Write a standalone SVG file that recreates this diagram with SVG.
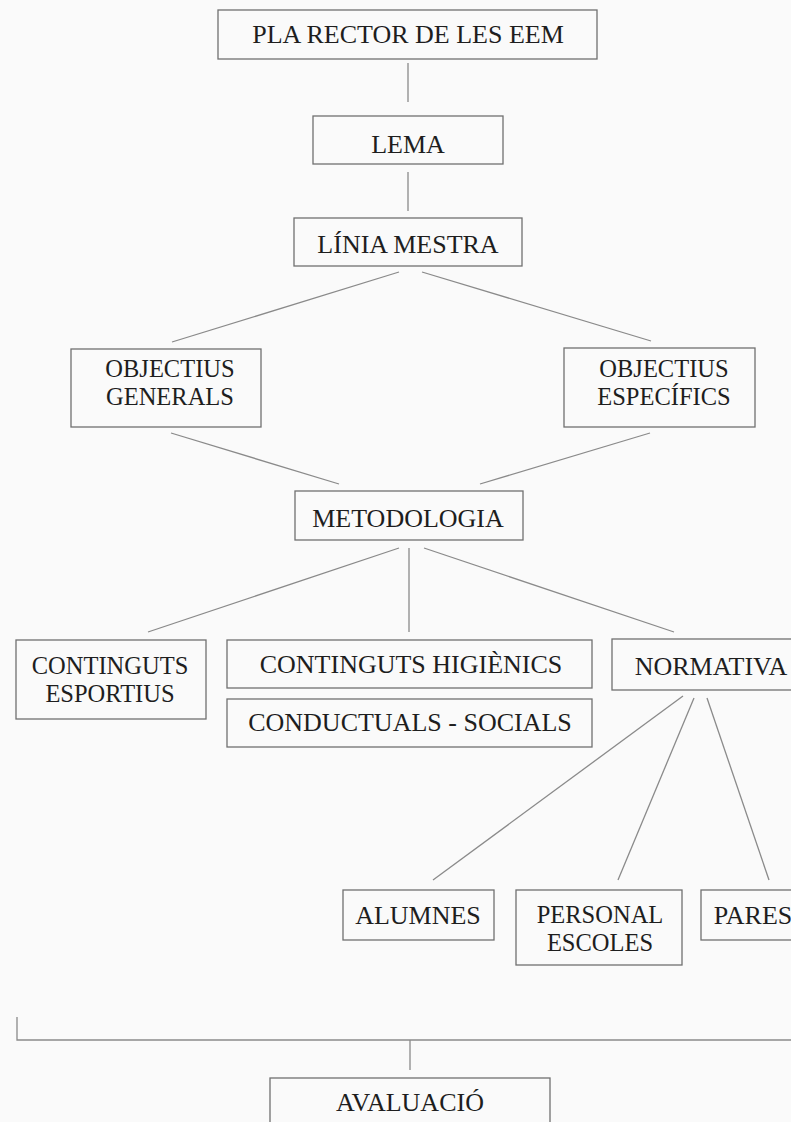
<svg xmlns="http://www.w3.org/2000/svg" width="791" height="1122" viewBox="0 0 791 1122">
<style>
.box{fill:none;stroke:#707070;stroke-width:1.3}
.ln{fill:none;stroke:#8a8a8a;stroke-width:1.3}
.t{font-family:"Liberation Serif","Times New Roman",serif;font-size:26px;fill:#1e1e1e;text-anchor:middle}
.t2{font-size:24.5px}
</style>
<rect width="791" height="1122" fill="#fafafa"/>
<g id="connectors">
<line class="ln" x1="408" y1="63" x2="408" y2="102"/>
<line class="ln" x1="408" y1="172" x2="408" y2="211"/>
<line class="ln" x1="399" y1="272" x2="172" y2="342"/>
<line class="ln" x1="422" y1="272" x2="651" y2="341"/>
<line class="ln" x1="171" y1="433" x2="339" y2="484"/>
<line class="ln" x1="650" y1="433" x2="480" y2="484"/>
<line class="ln" x1="399" y1="548" x2="148" y2="632"/>
<line class="ln" x1="409" y1="548" x2="409" y2="632"/>
<line class="ln" x1="424" y1="548" x2="674" y2="632"/>
<line class="ln" x1="683" y1="696" x2="433" y2="880"/>
<line class="ln" x1="694" y1="698" x2="618" y2="880"/>
<line class="ln" x1="707" y1="698" x2="769" y2="880"/>
<polyline class="ln" points="17,1017 17,1040 795,1040"/>
<line class="ln" x1="410" y1="1040" x2="410" y2="1070"/>
</g>
<g id="pla-rector">
<rect class="box" x="218" y="10" width="379" height="49"/>
<text class="t" x="408" y="43">PLA RECTOR DE LES EEM</text>
</g>
<g id="lema">
<rect class="box" x="313" y="116" width="190" height="48"/>
<text class="t" x="408" y="153">LEMA</text>
</g>
<g id="linia-mestra">
<rect class="box" x="294" y="218" width="228" height="48"/>
<text class="t" x="408" y="253">LÍNIA MESTRA</text>
</g>
<g id="objectius-generals">
<rect class="box" x="71" y="349" width="190" height="78"/>
<text class="t t2" x="170" y="377">OBJECTIUS</text>
<text class="t t2" x="170" y="405">GENERALS</text>
</g>
<g id="objectius-especifics">
<rect class="box" x="564" y="348" width="191" height="79"/>
<text class="t t2" x="664" y="377">OBJECTIUS</text>
<text class="t t2" x="664" y="405">ESPECÍFICS</text>
</g>
<g id="metodologia">
<rect class="box" x="295" y="491" width="228" height="49"/>
<text class="t" x="408" y="527">METODOLOGIA</text>
</g>
<g id="continguts-esportius">
<rect class="box" x="16" y="640" width="190" height="79"/>
<text class="t t2" x="110" y="674">CONTINGUTS</text>
<text class="t t2" x="110" y="702">ESPORTIUS</text>
</g>
<g id="continguts-higienics">
<rect class="box" x="227" y="640" width="365" height="48"/>
<text class="t" x="411" y="673">CONTINGUTS HIGIÈNICS</text>
</g>
<g id="conductuals-socials">
<rect class="box" x="227" y="699" width="365" height="48"/>
<text class="t" x="410" y="731">CONDUCTUALS - SOCIALS</text>
</g>
<g id="normativa">
<rect class="box" x="612" y="639" width="185" height="51"/>
<text class="t" x="711" y="675">NORMATIVA</text>
</g>
<g id="alumnes">
<rect class="box" x="343" y="890" width="151" height="50"/>
<text class="t" x="418" y="924">ALUMNES</text>
</g>
<g id="personal-escoles">
<rect class="box" x="516" y="890" width="166" height="75"/>
<text class="t t2" x="600" y="923">PERSONAL</text>
<text class="t t2" x="600" y="951">ESCOLES</text>
</g>
<g id="pares">
<rect class="box" x="701" y="890" width="96" height="50"/>
<text class="t" x="753" y="924">PARES</text>
</g>
<g id="avaluacio">
<rect class="box" x="270" y="1078" width="280" height="60"/>
<text class="t" x="410" y="1111">AVALUACIÓ</text>
</g>
</svg>
